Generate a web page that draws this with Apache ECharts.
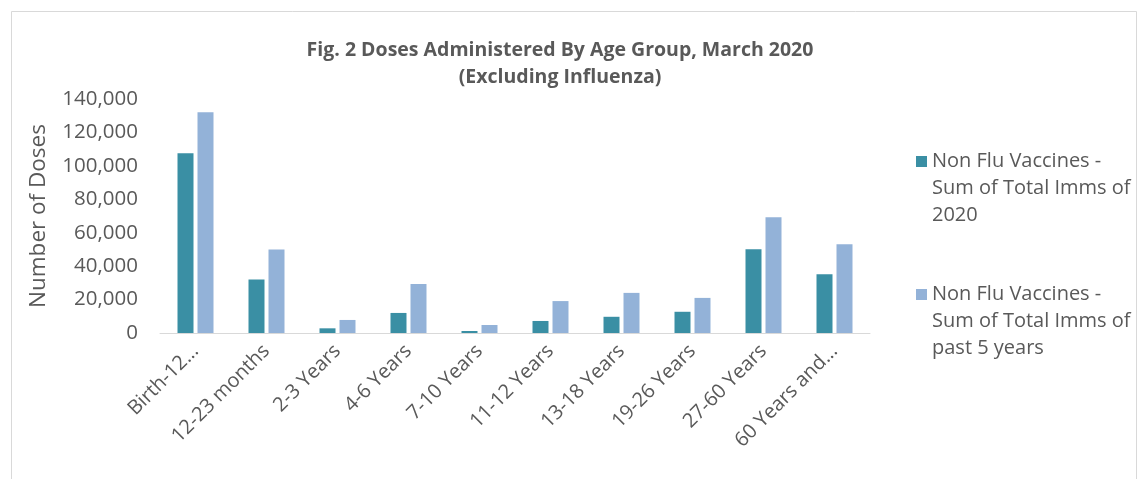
<!DOCTYPE html>
<html>
<head>
<meta charset="utf-8">
<script src="https://cdn.jsdelivr.net/npm/echarts@6/dist/echarts.min.js"></script>
<style>
html,body{margin:0;padding:0;background:#fff;}
#chart{width:1140px;height:479px;}
</style>
</head>
<body>
<div id="chart"></div>
<script>
var categories = ["Birth-12...", "12-23 months", "2-3 Years", "4-6 Years", "7-10 Years", "11-12 Years", "13-18 Years", "19-26 Years", "27-60 Years", "60 Years and..."];
var series2020 = [107500, 32000, 2800, 12000, 1200, 7200, 9700, 12700, 50100, 35200];
var seriesPast5 = [132000, 50000, 7800, 29300, 4800, 19100, 24000, 21000, 69300, 53100];
var yTicks = { min: 0, max: 140000, interval: 20000 };
var seriesNames = ["Non Flu Vaccines - Sum of Total Imms of 2020", "Non Flu Vaccines - Sum of Total Imms of past 5 years"];
var legendLines = {};
legendLines[seriesNames[0]] = "Non Flu Vaccines -\nSum of Total Imms of\n2020";
legendLines[seriesNames[1]] = "Non Flu Vaccines -\nSum of Total Imms of\npast 5 years";

var FONT = "Open Sans";
var TXT = "#595959";
var chart = echarts.init(document.getElementById('chart'), null, {renderer: 'canvas'});
chart.setOption({
  animation: false,
  backgroundColor: '#fff',
  graphic: [{
    type: 'rect', left: 9, top: 9, silent: true,
    shape: {width: 1125, height: 490},
    style: {fill: 'none', stroke: '#d9d9d9', lineWidth: 1}
  }],
  title: {
    text: "Fig. 2 Doses Administered By Age Group, March 2020\n(Excluding Influenza)",
    left: 555, top: 32, textAlign: 'center',
    textStyle: {fontFamily: FONT, fontSize: 19.5, fontWeight: 'bold', color: TXT, lineHeight: 27}
  },
  legend: {
    orient: 'vertical', left: 911, top: 143, itemWidth: 11, itemHeight: 81, itemGap: 52,
    icon: 'path://M0,0h0.01v0.01h-0.01Z M0,8h11v11h-11Z M0,81h0.01v0.01h-0.01Z',
    data: seriesNames,
    formatter: function (n) { return legendLines[n]; },
    textStyle: {fontFamily: FONT, fontSize: 20, color: TXT, lineHeight: 27}
  },
  grid: {left: 160, right: 270, top: 99, bottom: 146, containLabel: false},
  xAxis: {
    type: 'category', data: categories,
    axisLine: {lineStyle: {color: '#d9d9d9', width: 1}},
    axisTick: {show: false},
    axisLabel: {rotate: 45, interval: 0, margin: 15, fontFamily: FONT, fontSize: 20, color: TXT}
  },
  yAxis: {
    type: 'value', min: yTicks.min, max: yTicks.max, interval: yTicks.interval,
    name: 'Number of Doses', nameLocation: 'middle', nameGap: 110, nameRotate: 90,
    nameTextStyle: {fontFamily: FONT, fontSize: 22.5, color: TXT},
    axisLine: {show: false}, axisTick: {show: false}, splitLine: {show: false},
    axisLabel: {fontFamily: FONT, fontSize: 20.5, color: TXT, margin: 22,
      formatter: function (v) { return v.toLocaleString('en-US'); }}
  },
  series: [
    {name: seriesNames[0], type: 'bar', data: series2020, barWidth: 16, barGap: '25%', itemStyle: {color: '#3a8fa4'}},
    {name: seriesNames[1], type: 'bar', data: seriesPast5, barWidth: 16, itemStyle: {color: '#93b2d8'}}
  ]
});
</script>
</body>
</html>
